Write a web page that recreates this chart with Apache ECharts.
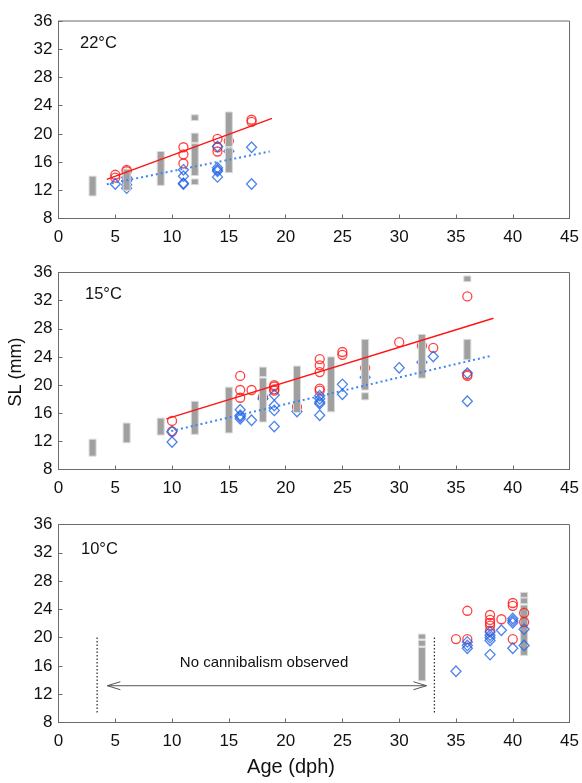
<!DOCTYPE html>
<html>
<head>
<meta charset="utf-8">
<script src="https://cdn.jsdelivr.net/npm/echarts@6/dist/echarts.min.js"></script>
<style>
html,body{margin:0;padding:0;background:#fff;}
#chart{width:582px;height:783px;}
</style>
</head>
<body>
<div id="chart"></div>
<script>
// ---------- Data ----------
const panelLabels = ['22°C', '15°C', '10°C'];
const xTicks = [0, 5, 10, 15, 20, 25, 30, 35, 40, 45];
const yTicks = [8, 12, 16, 20, 24, 28, 32, 36];

// gray size-range bars: [age, low SL, high SL]
const bars22 = [[3,11.2,14.0],[6,12.0,15.0],[9,12.7,17.5],[12,12.8,13.6],[12,14.1,18.6],[12,18.8,20.1],[12,21.9,22.7],[15,14.5,18.0],[15,18.2,23.1]];
const red22 = [[5,14.2],[5,13.8],[6,14.7],[6,14.9],[11,18.1],[11,17.1],[11,15.8],[14,19.3],[14,18.1],[14,17.5],[15,19.0],[17,22.0],[17,21.7]];
const blue22 = [[5,12.9],[6,12.3],[6,12.8],[6,13.3],[6,13.8],[11,14.9],[11,14.0],[11,13.0],[11,12.9],[14,18.2],[14,15.2],[14,14.9],[14,14.7],[14,13.9],[15,17.55],[17,18.1],[17,12.9]];
const fitRed22 = [[4.25,13.55],[18.8,22.2]];
const fitBlue22 = [[4.25,12.85],[18.6,17.5]];

const bars15 = [[3,9.9,12.3],[6,11.8,14.6],[9,12.9,15.3],[12,13.0,17.7],[15,13.2,19.7],[18,14.75,21.0],[18,21.2,22.55],[21,16.1,22.7],[24,16.2,24.0],[27,19.3,26.5],[27,17.9,18.9],[32,21.0,27.2],[36,34.7,35.5],[36,23.6,26.5]];
const red15 = [[10,14.9],[10,13.4],[16,21.3],[16,19.3],[16,18.2],[17,19.3],[18,18.3],[19,20.0],[19,19.8],[19,19.4],[19,19.2],[21,16.9],[23,23.7],[23,22.8],[23,21.85],[23,19.5],[23,19.2],[25,24.7],[25,24.3],[27,22.45],[30,26.1],[32,25.6],[33,25.3],[36,32.6],[36,21.5],[36,21.3]];
const blue15 = [[10,13.4],[10,11.9],[16,16.5],[16,15.7],[16,15.5],[16,15.2],[17,15.0],[18,18.05],[19,18.6],[19,17.1],[19,16.4],[19,14.1],[21,16.25],[23,18.5],[23,18.05],[23,17.6],[23,17.35],[23,15.7],[25,20.1],[25,18.7],[27,21.1],[30,22.45],[32,23.25],[33,24.05],[36,21.7],[36,17.7]];
const fitRed15 = [[9.5,15.2],[38.3,29.5]];
const fitBlue15 = [[9.5,13.3],[38.2,24.2]];

const bars10 = [[32,13.9,18.6],[32,18.8,19.6],[32,19.8,20.5],[41,17.5,24.6],[41,24.8,25.6],[41,25.7,26.4]];
const red10 = [[35,19.8],[36,23.8],[36,19.8],[38,23.2],[38,22.5],[38,22.1],[38,21.7],[38,21.0],[39,22.6],[40,24.9],[40,24.5],[40,19.8],[41,23.5],[41,22.2]];
const blue10 = [[35,15.25],[36,19.4],[36,18.9],[36,18.5],[38,20.8],[38,20.35],[38,20.0],[38,19.6],[38,17.6],[39,21.05],[40,22.7],[40,22.4],[40,22.1],[40,18.5],[41,21.2],[41,18.9]];
const dividerAges = [3.4, 33.1];
const dividerRange = [9.4, 20.1];
const arrowSpan = [4.3, 32.4, 13.2];   // from age, to age, SL level
const noteText = 'No cannibalism observed';
const notePos = [18.1, 16.4];

// ---------- Styles ----------
const FONT = '"Liberation Sans", Arial, sans-serif';
const AXIS_COLOR = '#6b6b6b';
const RED = '#ff1414';
const BLUE = '#1f63e6';

const grids = [
  {left: 58.5, top: 21, width: 512, height: 197.5},
  {left: 58.5, top: 272.5, width: 512, height: 197},
  {left: 58.5, top: 524.5, width: 512, height: 198}
].map(g => Object.assign({show: true, borderColor: AXIS_COLOR, borderWidth: 1, backgroundColor: '#fff'}, g));

function xAxis(i) {
  return {
    gridIndex: i, type: 'value', min: 0, max: 45, interval: 5,
    axisLine: {show: true, onZero: false, lineStyle: {color: AXIS_COLOR, width: 1}},
    axisTick: {show: true, inside: true, length: 4, lineStyle: {color: AXIS_COLOR}},
    axisLabel: {show: true, color: '#111', fontSize: 17, fontFamily: FONT, margin: 10,
      formatter: v => xTicks.includes(v) ? String(v) : ''},
    splitLine: {show: false}
  };
}
function yAxis(i) {
  return {
    gridIndex: i, type: 'value', min: 8, max: 36, interval: 4,
    axisLine: {show: true, onZero: false, lineStyle: {color: AXIS_COLOR, width: 1}},
    axisTick: {show: true, inside: true, length: 4, lineStyle: {color: AXIS_COLOR}},
    axisLabel: {show: true, color: '#111', fontSize: 17, fontFamily: FONT, margin: 6,
      formatter: v => yTicks.includes(v) ? String(v) : ''},
    splitLine: {show: false}
  };
}

function barRender(params, api) {
  const x = api.value(0), lo = api.value(1), hi = api.value(2);
  const p1 = api.coord([x, hi]);
  const p2 = api.coord([x, lo]);
  return {
    type: 'rect',
    shape: {x: p1[0] - 3.5, y: p1[1], width: 7, height: p2[1] - p1[1]},
    style: {fill: '#a0a0a0', stroke: '#dadada', lineWidth: 1}
  };
}
function barSeries(i, data, z) {
  return {type: 'custom', xAxisIndex: i, yAxisIndex: i, data: data, renderItem: barRender,
    encode: {x: 0, y: [1, 2]}, z: z, silent: true};
}
function redSeries(i, data, z) {
  return {type: 'scatter', xAxisIndex: i, yAxisIndex: i, data: data, symbol: 'circle', symbolSize: 9,
    itemStyle: {color: 'rgba(0,0,0,0)', borderColor: RED, borderWidth: 1.3}, z: z};
}
function blueSeries(i, data, z) {
  return {type: 'scatter', xAxisIndex: i, yAxisIndex: i, data: data, symbol: 'diamond', symbolSize: [10, 10.5],
    itemStyle: {color: 'rgba(0,0,0,0)', borderColor: BLUE, borderWidth: 1.3}, z: z};
}
function fitLine(i, data, color, type, width, z) {
  return {type: 'line', xAxisIndex: i, yAxisIndex: i, data: data, showSymbol: false, symbol: 'none',
    lineStyle: {color: color, type: type, width: width}, z: z, silent: true};
}

const series = [
  // 22 °C
  redSeries(0, red22, 2), blueSeries(0, blue22, 2), barSeries(0, bars22, 3),
  fitLine(0, fitRed22, RED, 'solid', 1.4, 4), fitLine(0, fitBlue22, '#3d86f2', [2, 3], 2, 4),
  // 15 °C
  redSeries(1, red15, 2), blueSeries(1, blue15, 2), barSeries(1, bars15, 3),
  fitLine(1, fitRed15, RED, 'solid', 1.4, 4), fitLine(1, fitBlue15, '#3d86f2', [2, 3], 2, 4),
  // 10 °C
  barSeries(2, bars10, 2), redSeries(2, red10, 3), blueSeries(2, blue10, 3)
];

// vertical dotted dividers
dividerAges.forEach(a => {
  series.push({type: 'line', xAxisIndex: 2, yAxisIndex: 2, data: [[a, dividerRange[0]], [a, dividerRange[1]]],
    showSymbol: false, symbol: 'none', lineStyle: {color: '#333', type: [1.5, 2], width: 1.3}, silent: true});
});
// double-headed arrow with open heads
series.push({
  type: 'custom', xAxisIndex: 2, yAxisIndex: 2, data: [arrowSpan], silent: true,
  encode: {x: [0, 1], y: 2},
  renderItem: function (params, api) {
    const a = api.coord([api.value(0), api.value(2)]);
    const b = api.coord([api.value(1), api.value(2)]);
    const st = {stroke: '#555', lineWidth: 1, fill: null};
    return {type: 'group', children: [
      {type: 'line', shape: {x1: a[0], y1: a[1], x2: b[0], y2: b[1]}, style: st},
      {type: 'polyline', shape: {points: [[a[0] + 13, a[1] - 4], [a[0], a[1]], [a[0] + 13, a[1] + 4]]}, style: st},
      {type: 'polyline', shape: {points: [[b[0] - 13, b[1] - 4], [b[0], b[1]], [b[0] - 13, b[1] + 4]]}, style: st}
    ]};
  }
});
// note text
series.push({
  type: 'custom', xAxisIndex: 2, yAxisIndex: 2, data: [notePos], silent: true,
  encode: {x: 0, y: 1},
  renderItem: function (params, api) {
    const p = api.coord([api.value(0), api.value(1)]);
    return {type: 'text', x: p[0], y: p[1],
      style: {text: noteText, fill: '#111', font: '15px ' + FONT, textAlign: 'center', textVerticalAlign: 'middle'}};
  }
});

const graphic = [
  {type: 'text', left: 80, top: 35, style: {text: panelLabels[0], fill: '#111', font: '16.5px ' + FONT}},
  {type: 'text', left: 85, top: 286, style: {text: panelLabels[1], fill: '#111', font: '16.5px ' + FONT}},
  {type: 'text', left: 81, top: 541, style: {text: panelLabels[2], fill: '#111', font: '16.5px ' + FONT}},
  {type: 'text', left: 'center', top: 757, style: {text: 'Age (dph)', fill: '#111', font: '20px ' + FONT}},
  {type: 'text', x: 16, y: 372, rotation: Math.PI / 2, style: {text: 'SL (mm)', fill: '#111', font: '18px ' + FONT, textAlign: 'center', textVerticalAlign: 'middle'}}
];

const chart = echarts.init(document.getElementById('chart'), null, {renderer: 'canvas'});
chart.setOption({
  animation: false,
  backgroundColor: '#fff',
  grid: grids,
  xAxis: [xAxis(0), xAxis(1), xAxis(2)],
  yAxis: [yAxis(0), yAxis(1), yAxis(2)],
  series: series,
  graphic: graphic
});
</script>
</body>
</html>
